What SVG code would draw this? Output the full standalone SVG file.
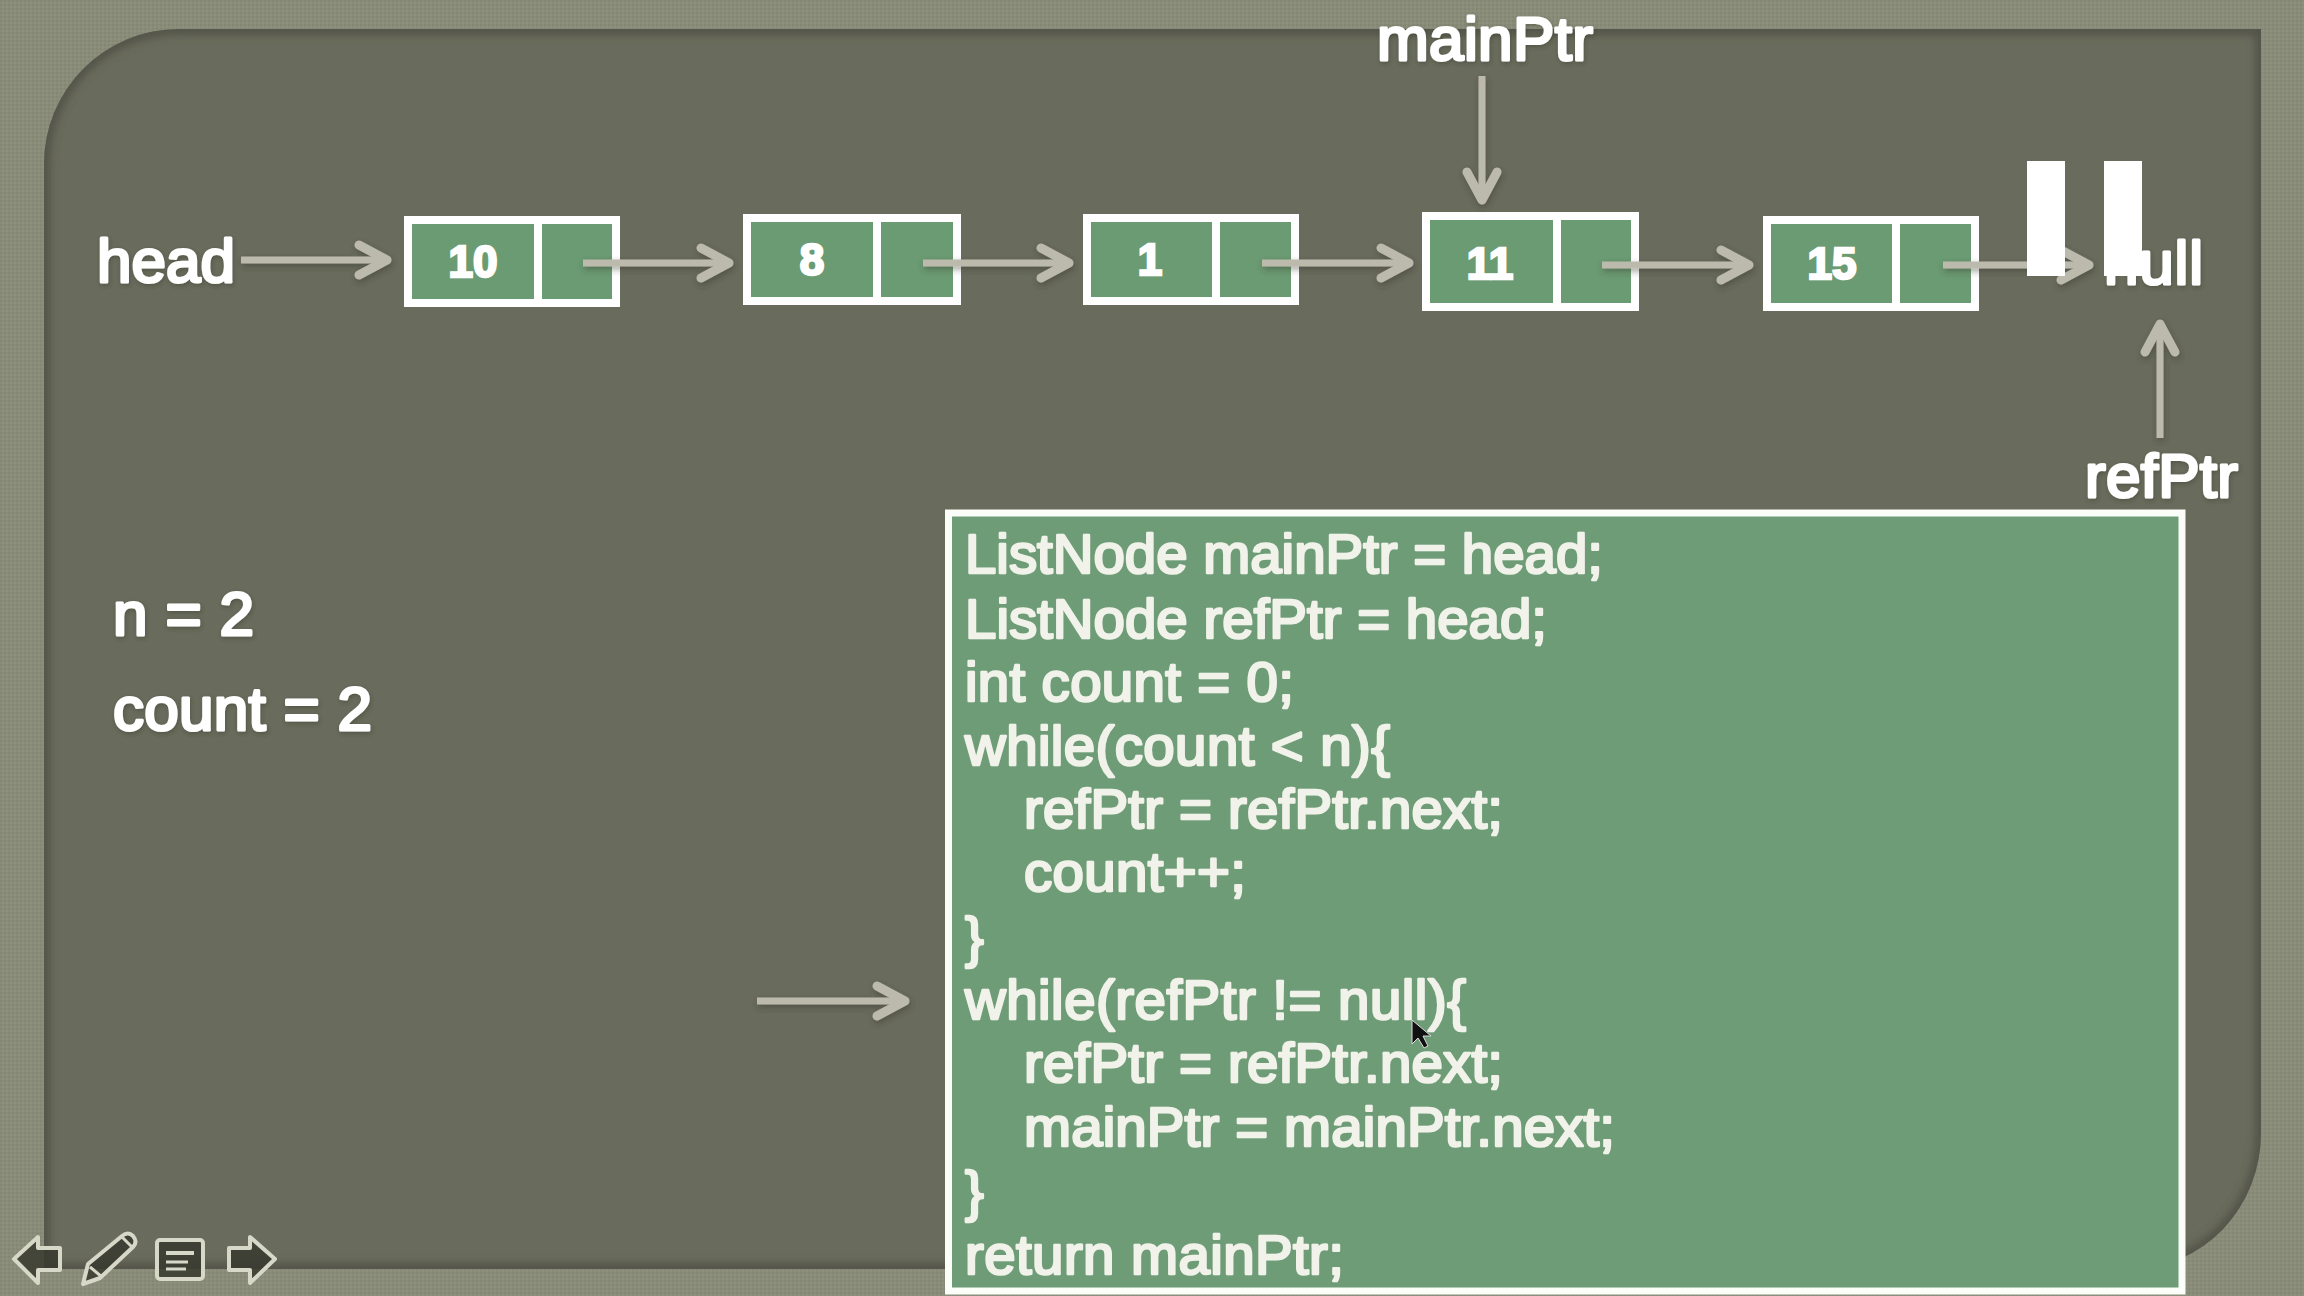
<svg xmlns="http://www.w3.org/2000/svg" width="2304" height="1296" viewBox="0 0 2304 1296">
<defs>
<style>
.lab{font-family:"Liberation Sans",Arial,sans-serif;fill:#fff;font-size:62px;stroke:#fff;stroke-width:3px;stroke-linejoin:round}
.num{font-family:"Liberation Sans",Arial,sans-serif;font-weight:bold;fill:#fff;font-size:44px;text-anchor:middle;stroke:#fff;stroke-width:2.5px}
.code{font-family:"Liberation Sans",Arial,sans-serif;fill:#f1f2ea;font-size:56.4px;stroke:#f1f2ea;stroke-width:2.6px;stroke-linejoin:round}
.cell{fill:#6b9b72;stroke:#fff;stroke-width:8}
.arw{fill:none;stroke:#bcbaac;stroke-width:7;stroke-linecap:butt;stroke-linejoin:round}
.hd{stroke-width:9;stroke-linecap:round}
.ico{fill:#38392f;fill-opacity:.85;stroke:#d8d8c9;stroke-width:4;stroke-linejoin:round}
</style>
<pattern id="tex" width="4" height="4" patternUnits="userSpaceOnUse"><rect width="4" height="4" fill="#898c78"/><rect width="2" height="2" fill="#848773"/><rect x="2" y="2" width="2" height="2" fill="#8d907c"/></pattern>
<filter id="sh" x="-20%" y="-40%" width="140%" height="200%"><feDropShadow dx="1" dy="3" stdDeviation="3" flood-color="#33342a" flood-opacity=".45"/></filter>
<filter id="bl" x="-5%" y="-5%" width="110%" height="110%"><feGaussianBlur stdDeviation="5"/></filter>
<filter id="tx" x="-10%" y="-20%" width="120%" height="150%"><feDropShadow dx="1" dy="2" stdDeviation="2" flood-color="#33342a" flood-opacity=".4"/></filter>
<clipPath id="pc"><path d="M44 1269V164A135 135 0 0 1 179 29H2261V1133A130 136 0 0 1 2131 1269Z"/></clipPath>
</defs>
<rect width="2304" height="1296" fill="url(#tex)"/>
<path id="panel" d="M44 1269V164A135 135 0 0 1 179 29H2261V1133A130 136 0 0 1 2131 1269Z" fill="#696b5c"/>
<path d="M44 1269V164A135 135 0 0 1 179 29H2261V1133A130 136 0 0 1 2131 1269Z" fill="none" stroke="#4f5044" stroke-width="10" filter="url(#bl)" clip-path="url(#pc)"/>
<g id="head"><text class="lab" x="97" y="282" textLength="138" filter="url(#tx)">head</text></g>
<g id="mainPtr"><text class="lab" x="1377" y="60" textLength="216" filter="url(#tx)">mainPtr</text></g>
<g id="node10"><rect class="cell" x="408" y="220" width="208" height="83"/><path class="cell" d="M538 220V303"/><text class="num" x="473" y="277">10</text></g>
<g id="node8"><rect class="cell" x="747" y="218" width="210" height="83"/><path class="cell" d="M877 218V301"/><text class="num" x="812" y="275">8</text></g>
<g id="node1"><rect class="cell" x="1087" y="218" width="208" height="83"/><path class="cell" d="M1216 218V301"/><text class="num" x="1150" y="275">1</text></g>
<g id="node11"><rect class="cell" x="1426" y="216" width="209" height="91"/><path class="cell" d="M1557 216V307"/><text class="num" x="1490" y="279">11</text></g>
<g id="node15"><rect class="cell" x="1767" y="220" width="208" height="87"/><path class="cell" d="M1896 220V307"/><text class="num" x="1832" y="279">15</text></g>
<g id="null"><text class="lab" x="2104" y="284" textLength="99" filter="url(#tx)">null</text></g>
<g id="connectors" class="arw" filter="url(#sh)">
<path d="M241 260H386"/><path class="hd" d="M359 245L387 260L359 275"/>
<path d="M583 263H728"/><path class="hd" d="M701 248L729 263L701 278"/>
<path d="M923 263H1068"/><path class="hd" d="M1041 248L1069 263L1041 278"/>
<path d="M1262 263H1408"/><path class="hd" d="M1381 248L1409 263L1381 278"/>
<path d="M1602 265H1748"/><path class="hd" d="M1721 250L1749 265L1721 280"/>
<path d="M1943 265H2088"/><path class="hd" d="M2061 250L2089 265L2061 280"/>
<path d="M1482 76V198"/><path class="hd" d="M1467 172L1482 200L1497 172"/>
<path d="M2160 438V326"/><path class="hd" d="M2145 352L2160 324L2175 352"/>
<path d="M757 1001H904"/><path class="hd" d="M877 986L905 1001L877 1016"/>
</g>
<g id="pause"><rect x="2027" y="161" width="38" height="115" fill="#fff"/><rect x="2104" y="161" width="38" height="115" fill="#fff"/></g>
<g id="refPtr"><text class="lab" x="2085" y="497" textLength="153" filter="url(#tx)">refPtr</text></g>
<g id="vars"><text class="lab" x="113" y="635" textLength="141" filter="url(#tx)">n = 2</text><text class="lab" x="113" y="730" textLength="259" filter="url(#tx)">count = 2</text></g>
<g id="code">
<rect x="948.5" y="513" width="1233.5" height="778" fill="#6d9c76" stroke="#fbfdf8" stroke-width="7"/>
<text class="code" x="965" y="573" textLength="638">ListNode mainPtr = head;</text>
<text class="code" x="965" y="638" textLength="582">ListNode refPtr = head;</text>
<text class="code" x="965" y="701" textLength="329">int count = 0;</text>
<text class="code" x="965" y="765" textLength="425">while(count &lt; n){</text>
<text class="code" x="1024" y="828" textLength="479">refPtr = refPtr.next;</text>
<text class="code" x="1024" y="891" textLength="222">count++;</text>
<text class="code" x="965" y="956">}</text>
<text class="code" x="965" y="1019" textLength="501">while(refPtr != null){</text>
<text class="code" x="1024" y="1082" textLength="479">refPtr = refPtr.next;</text>
<text class="code" x="1024" y="1146" textLength="591">mainPtr = mainPtr.next;</text>
<text class="code" x="965" y="1210">}</text>
<text class="code" x="965" y="1274" textLength="379">return mainPtr;</text>
</g>
<path id="cursor" d="M1412 1020V1044L1418 1038L1424 1048L1428 1046L1423 1036L1431 1036Z" fill="#111" stroke="#ddd" stroke-width="1"/>
<g id="icons">
<path class="ico" d="M14 1259L38 1237V1248H60V1270H38V1283Z"/>
<path class="ico" d="M83 1284L88 1264L122 1236Q128 1231 133 1236Q138 1242 133 1247L100 1278Z"/>
<path d="M90 1267L102 1277M122 1237L132 1247" stroke="#d8d8c9" stroke-width="3" fill="none"/>
<rect class="ico" x="157" y="1240" width="46" height="39" rx="3"/>
<path d="M166 1253H194" stroke="#d8d8c9" stroke-width="4" fill="none"/>
<path d="M166 1262H188M166 1269H186" stroke="#d8d8c9" stroke-width="3" fill="none"/>
<path class="ico" d="M275 1259L250 1237V1248H229V1270H250V1283Z"/>
</g>
</svg>
